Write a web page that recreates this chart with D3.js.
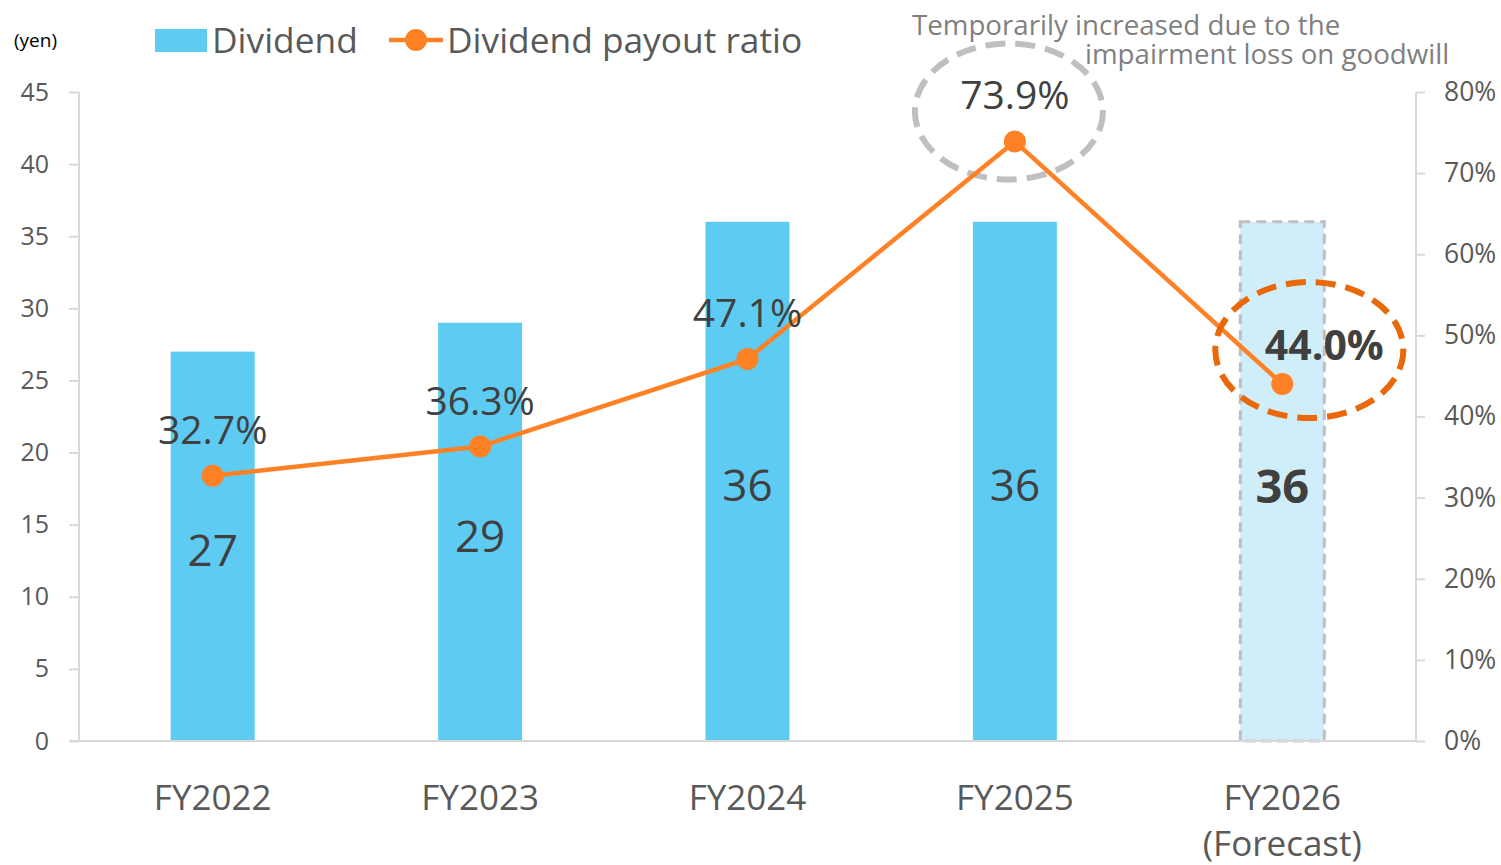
<!DOCTYPE html>
<html>
<head>
<meta charset="utf-8">
<script src="https://cdn.jsdelivr.net/npm/d3@7"></script>
<style>
  body { margin: 0; background: #fff; }
  svg { font-family: "Open Sans", "Noto Sans", sans-serif; }
</style>
</head>
<body>
<svg id="chart" width="1501" height="865"></svg>
<script>
// data
var years = ['FY2022', 'FY2023', 'FY2024', 'FY2025', 'FY2026'];
var dividends = [27, 29, 36, 36, 36];
var payoutRatios = [32.7, 36.3, 47.1, 73.9, 44.0];
var leftTicks = [0, 5, 10, 15, 20, 25, 30, 35, 40, 45];
var rightTicks = [0, 10, 20, 30, 40, 50, 60, 70, 80];
var forecastIndex = 4;

var svg = d3.select('#chart');
var plotLeft = 79, plotRight = 1416, plotTop = 92, plotBottom = 741;

var x = d3.scaleBand().domain(years).range([plotLeft, plotRight]).paddingInner(0.686).paddingOuter(0.343);
var yLeft = d3.scaleLinear().domain([0, 45]).range([plotBottom, plotTop]);
var yRight = d3.scaleLinear().domain([0, 80]).range([plotBottom, plotTop]);

var axisColor = '#d9d9d9', tickText = '#595959', labelColor = '#404040';

// left axis
var gL = svg.append('g').attr('transform', 'translate(' + plotLeft + ',0)')
    .call(d3.axisLeft(yLeft).tickValues(leftTicks).tickSize(10).tickPadding(20));
gL.select('.domain').attr('stroke', axisColor).attr('stroke-width', 2).attr('d', 'M0,' + plotTop + 'V' + plotBottom);
gL.selectAll('.tick line').attr('stroke', axisColor).attr('stroke-width', 2);
gL.selectAll('.tick text').attr('fill', tickText).style('font-size', '25px').attr('font-family', '"Open Sans", sans-serif');

// right axis
var gR = svg.append('g').attr('transform', 'translate(' + plotRight + ',0)')
    .call(d3.axisRight(yRight).tickValues(rightTicks).tickFormat(d => d + '%').tickSize(9).tickPadding(19));
gR.select('.domain').attr('stroke', axisColor).attr('stroke-width', 2).attr('d', 'M0,' + plotTop + 'V' + plotBottom);
gR.selectAll('.tick line').attr('stroke', axisColor).attr('stroke-width', 2);
gR.selectAll('.tick text').attr('fill', tickText).style('font-size', '26.5px').attr('font-family', '"Open Sans", sans-serif');

// bars
svg.selectAll('.bar').data(years).enter().append('rect')
    .attr('class', 'bar')
    .attr('x', d => x(d))
    .attr('width', x.bandwidth())
    .attr('y', (d, i) => yLeft(dividends[i]))
    .attr('height', (d, i) => plotBottom - yLeft(dividends[i]))
    .attr('fill', (d, i) => i == forecastIndex ? '#d0eef9' : '#5ecbf3')
    .attr('stroke', (d, i) => i == forecastIndex ? '#bfbfbf' : 'none')
    .attr('stroke-width', 3)
    .attr('stroke-dasharray', '10,6');

// bottom baseline
svg.append('line').attr('x1', plotLeft - 10).attr('x2', plotRight).attr('y1', plotBottom).attr('y2', plotBottom)
    .attr('stroke', axisColor).attr('stroke-width', 2);

// category labels
var cats = svg.append('g');
years.forEach(function(d, i) {
    cats.append('text')
        .attr('x', x(d) + x.bandwidth() / 2)
        .attr('y', 810)
        .attr('text-anchor', 'middle')
        .attr('fill', tickText)
        .style('font-size', '35px')
        .text(d);
    if (i == forecastIndex) {
        cats.append('text')
            .attr('x', x(d) + x.bandwidth() / 2)
            .attr('y', 856)
            .attr('text-anchor', 'middle')
            .attr('fill', tickText)
            .style('font-size', '35px')
            .text('(Forecast)');
    }
});

// bar value labels
svg.selectAll('.barLabel').data(years).enter().append('text')
    .attr('x', d => x(d) + x.bandwidth() / 2)
    .attr('y', (d, i) => (yLeft(dividends[i]) + plotBottom) / 2 + (i == forecastIndex ? 22 : 20))
    .attr('text-anchor', 'middle')
    .attr('fill', labelColor)
    .style('font-size', (d, i) => i == forecastIndex ? '47px' : '44px')
    .style('font-weight', (d, i) => i == forecastIndex ? 'bold' : 'normal')
    .text((d, i) => dividends[i]);

// gray dashed ellipse around the peak
svg.append('ellipse')
    .attr('cx', x(years[3]) + x.bandwidth() / 2 - 6).attr('cy', yRight(73.9) - 30)
    .attr('rx', 94).attr('ry', 68)
    .attr('fill', 'none').attr('stroke', '#bfbfbf').attr('stroke-width', 6)
    .attr('stroke-dasharray', '20,10');

// payout ratio line
var line = d3.line()
    .x((d, i) => x(years[i]) + x.bandwidth() / 2)
    .y(d => yRight(d));
svg.append('path').datum(payoutRatios)
    .attr('d', line)
    .attr('fill', 'none')
    .attr('stroke', '#ff8125')
    .attr('stroke-width', 4.5);
svg.selectAll('.dot').data(payoutRatios).enter().append('circle')
    .attr('cx', (d, i) => x(years[i]) + x.bandwidth() / 2)
    .attr('cy', d => yRight(d))
    .attr('r', 11)
    .attr('fill', '#ff8125');

// orange dashed ellipse around the forecast ratio
svg.append('ellipse')
    .attr('cx', x(years[4]) + x.bandwidth() / 2 + 27).attr('cy', yRight(44.0) - 34)
    .attr('rx', 94).attr('ry', 68)
    .attr('fill', 'none').attr('stroke', '#e8680a').attr('stroke-width', 6)
    .attr('stroke-dasharray', '20,10');

// ratio labels
svg.selectAll('.ratioLabel').data(payoutRatios).enter().append('text')
    .attr('x', (d, i) => x(years[i]) + x.bandwidth() / 2 + (i == forecastIndex ? 42 : 0))
    .attr('y', (d, i) => yRight(d) - (i == forecastIndex ? 24 : 32))
    .attr('text-anchor', 'middle')
    .attr('fill', labelColor)
    .style('font-size', (d, i) => i == forecastIndex ? '41px' : '39px')
    .style('font-weight', (d, i) => i == forecastIndex ? 'bold' : 'normal')
    .text(d => d.toFixed(1) + '%');

// annotation
svg.append('text').attr('x', 912).attr('y', 35)
    .attr('fill', '#7f7f7f').style('font-size', '27.7px')
    .text('Temporarily increased due to the');
svg.append('text').attr('x', 1085).attr('y', 64)
    .attr('fill', '#7f7f7f').style('font-size', '27.7px')
    .text('impairment loss on goodwill');

// unit label
svg.append('text').attr('x', 14).attr('y', 47)
    .attr('fill', '#000').style('font-size', '19px')
    .text('(yen)');

// legend
var lg = svg.append('g');
lg.append('rect').attr('x', 155).attr('y', 29).attr('width', 52).attr('height', 23).attr('fill', '#5ecbf3');
lg.append('text').attr('x', 212).attr('y', 53).attr('fill', tickText).style('font-size', '35.3px').text('Dividend');
lg.append('line').attr('x1', 389).attr('x2', 443).attr('y1', 40).attr('y2', 40)
    .attr('stroke', '#ff8125').attr('stroke-width', 4.5);
lg.append('circle').attr('cx', 416).attr('cy', 40).attr('r', 11).attr('fill', '#ff8125');
lg.append('text').attr('x', 447).attr('y', 53).attr('fill', tickText).style('font-size', '35.3px').text('Dividend payout ratio');
</script>
</body>
</html>
